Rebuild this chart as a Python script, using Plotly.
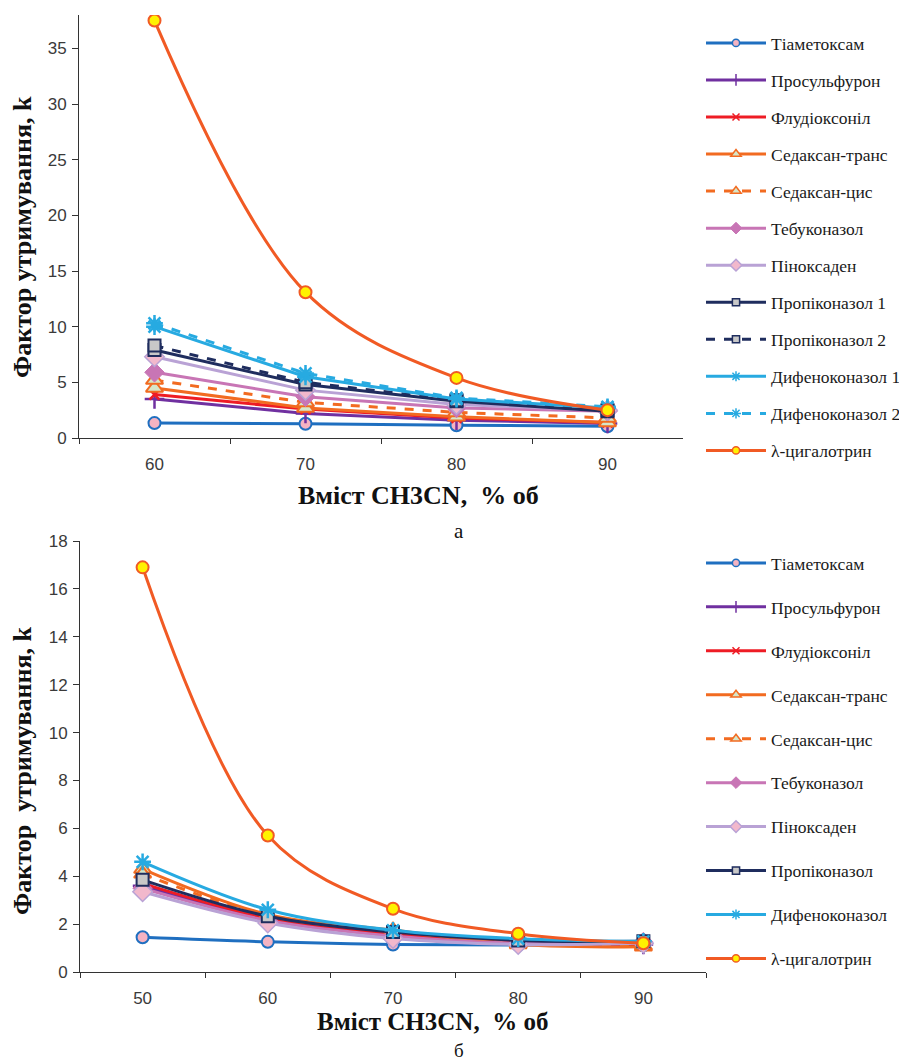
import plotly.graph_objects as go

# page body adds an 8px margin; the figure is sized so that it fills the 907x1062 window
OFF = 8
W, H = 907 - OFF, 1062 - OFF

# ---------------- data: chart a ----------------
x_a = ["60", "70", "80", "90"]
names_a = ["Тіаметоксам", "Просульфурон", "Флудіоксоніл", "Седаксан-транс", "Седаксан-цис",
           "Тебуконазол", "Піноксаден", "Пропіконазол 1", "Пропіконазол 2",
           "Дифеноконазол 1", "Дифеноконазол 2", "λ-цигалотрин"]
thiamethoxam_a = [1.34, 1.28, 1.15, 1.05]
prosulfuron_a = [3.5, 2.2, 1.6, 1.3]
fludioxonil_a = [3.9, 2.6, 1.8, 1.4]
sedaxan_trans_a = [4.5, 2.7, 1.9, 1.4]
sedaxan_cis_a = [5.2, 3.2, 2.3, 1.8]
tebuconazole_a = [5.9, 3.7, 2.7, 2.4]
pinoxaden_a = [7.3, 4.3, 3.0, 2.5]
propiconazole1_a = [7.9, 4.8, 3.3, 2.4]
propiconazole2_a = [8.3, 5.0, 3.4, 2.5]
difenoconazole1_a = [10.0, 5.5, 3.5, 2.7]
difenoconazole2_a = [10.3, 5.8, 3.6, 2.8]
cyhalothrin_a = [37.5, 13.1, 5.4, 2.5]
series_a = [thiamethoxam_a, prosulfuron_a, fludioxonil_a, sedaxan_trans_a, sedaxan_cis_a,
            tebuconazole_a, pinoxaden_a, propiconazole1_a, propiconazole2_a,
            difenoconazole1_a, difenoconazole2_a, cyhalothrin_a]
yticks_a = [0, 5, 10, 15, 20, 25, 30, 35]

# ---------------- data: chart b ----------------
x_b = ["50", "60", "70", "80", "90"]
names_b = ["Тіаметоксам", "Просульфурон", "Флудіоксоніл", "Седаксан-транс", "Седаксан-цис",
           "Тебуконазол", "Піноксаден", "Пропіконазол", "Дифеноконазол", "λ-цигалотрин"]
thiamethoxam_b = [1.45, 1.26, 1.15, 1.13, 1.12]
prosulfuron_b = [3.6, 2.2, 1.55, 1.2, 1.15]
fludioxonil_b = [3.7, 2.25, 1.6, 1.25, 1.15]
sedaxan_trans_b = [4.3, 2.4, 1.75, 1.15, 1.05]
sedaxan_cis_b = [4.1, 2.35, 1.7, 1.2, 1.1]
tebuconazole_b = [3.5, 2.15, 1.5, 1.2, 1.25]
pinoxaden_b = [3.35, 2.05, 1.4, 1.15, 1.2]
propiconazole_b = [3.85, 2.33, 1.67, 1.32, 1.28]
difenoconazole_b = [4.6, 2.6, 1.74, 1.39, 1.28]
cyhalothrin_b = [16.9, 5.7, 2.64, 1.6, 1.2]
series_b = [thiamethoxam_b, prosulfuron_b, fludioxonil_b, sedaxan_trans_b, sedaxan_cis_b,
            tebuconazole_b, pinoxaden_b, propiconazole_b, difenoconazole_b, cyhalothrin_b]
yticks_b = [0, 2, 4, 6, 8, 10, 12, 14, 16, 18]

# ---------------- styles ----------------
S = {
    "thia": dict(lc="#1F6FC0", dash="solid", sym="circle", fill="#F4B3C2", ml="#1F6FC0", ms=12, mw=2),
    "pros": dict(lc="#7030A0", dash="solid", sym="cross-thin-open", fill="#7030A0", ml="#7030A0", ms=14, mw=2.5),
    "flud": dict(lc="#EE1C25", dash="solid", sym="x-thin-open", fill="#EE1C25", ml="#EE1C25", ms=10, mw=2.5),
    "sedt": dict(lc="#F26B21", dash="solid", sym="triangle-up", fill="#D6E6C8", ml="#F26B21", ms=15, mw=2),
    "sedc": dict(lc="#F26B21", dash="dash", sym="triangle-up", fill="#D6E6C8", ml="#F26B21", ms=15, mw=2),
    "tebu": dict(lc="#C875B5", dash="solid", sym="diamond", fill="#C875B5", ml="#C875B5", ms=15, mw=1),
    "pino": dict(lc="#B9A2D5", dash="solid", sym="diamond", fill="#F2B8CC", ml="#B9A2D5", ms=15, mw=1.5),
    "pro1": dict(lc="#1F2D5E", dash="solid", sym="square", fill="#C8C8C8", ml="#1F2D5E", ms=12, mw=2),
    "pro2": dict(lc="#1F2D5E", dash="dash", sym="square", fill="#C8C8C8", ml="#1F2D5E", ms=12, mw=2),
    "dif1": dict(lc="#27AAE1", dash="solid", sym="asterisk-open", fill="#27AAE1", ml="#27AAE1", ms=14, mw=2.5),
    "dif2": dict(lc="#27AAE1", dash="dash", sym="asterisk-open", fill="#27AAE1", ml="#27AAE1", ms=14, mw=2.5),
    "lamb": dict(lc="#F15A24", dash="solid", sym="circle", fill="#FFF200", ml="#F15A24", ms=12, mw=2),
}
keys_a = ["thia", "pros", "flud", "sedt", "sedc", "tebu", "pino", "pro1", "pro2", "dif1", "dif2", "lamb"]
keys_b = ["thia", "pros", "flud", "sedt", "sedc", "tebu", "pino", "pro1", "dif1", "lamb"]

SERIF = "Liberation Serif"

fig = go.Figure()


def add(xv, yv, name, st, xa, ya, leg, grp, shape):
    fig.add_trace(go.Scatter(
        x=xv, y=yv, name=name, mode="lines+markers",
        xaxis=xa, yaxis=ya, legend=leg, legendgroup=grp, showlegend=False,
        line=dict(color=st["lc"], width=3, dash=st["dash"], shape=shape, smoothing=1.0),
        marker=dict(symbol=st["sym"], size=st["ms"], color=st["fill"],
                    line=dict(color=st["ml"], width=st["mw"])),
    ))
    # legend entry with smaller marker
    fig.add_trace(go.Scatter(
        x=[None], y=[None], name=name, mode="lines+markers",
        xaxis=xa, yaxis=ya, legend=leg, legendgroup=grp, showlegend=True,
        line=dict(color=st["lc"], width=3, dash=st["dash"]),
        marker=dict(symbol=st["sym"], size=max(7, st["ms"] * 0.6), color=st["fill"],
                    line=dict(color=st["ml"], width=min(st["mw"], 1.5))),
    ))


for i, (nm, k, ys) in enumerate(zip(names_a, keys_a, series_a)):
    add(x_a, ys, nm, S[k], "x", "y", "legend", "a%d" % i, "spline" if k == "lamb" else "linear")
for i, (nm, k, ys) in enumerate(zip(names_b, keys_b, series_b)):
    add(x_b, ys, nm, S[k], "x2", "y2", "legend2", "b%d" % i, "spline")

tickfont = dict(family="Liberation Sans", size=17, color="#3a3a3a")
axcommon = dict(showline=True, linecolor="#333333", linewidth=1, ticks="outside",
                tickcolor="#333333", showgrid=False, zeroline=False, tickfont=tickfont)


def px(v):
    return (v - OFF) / W


def py(v):
    return 1 - (v - OFF) / H


legfont = dict(family=SERIF, size=17.5, color="#1a1a1a")
fig.update_layout(
    width=W, height=H, margin=dict(l=0, r=0, t=0, b=0, autoexpand=False),
    paper_bgcolor="white", plot_bgcolor="white",
    xaxis=dict(domain=[px(79), px(683)], anchor="y", type="category", tickson="boundaries",
               range=[-0.5, len(x_a) - 0.5],
               ticklen=5, ticklabelstandoff=11, **axcommon),
    yaxis=dict(domain=[py(438), py(15)], anchor="x", range=[0, 38], tickvals=yticks_a,
               ticklen=6, ticklabelstandoff=2, **axcommon),
    xaxis2=dict(domain=[px(80), px(706)], anchor="y2", type="category", tickson="boundaries",
                range=[-0.5, len(x_b) - 0.5],
                ticklen=5, ticklabelstandoff=11, **axcommon),
    yaxis2=dict(domain=[py(972), py(541)], anchor="x2", range=[0, 18], tickvals=yticks_b,
                ticklen=6, ticklabelstandoff=2, **axcommon),
    legend=dict(x=px(701), y=py(25), xanchor="left", yanchor="top", traceorder="grouped",
                tracegroupgap=11.3, itemwidth=60, bgcolor="rgba(0,0,0,0)", font=legfont),
    legend2=dict(x=px(701), y=py(545), xanchor="left", yanchor="top", traceorder="grouped",
                 tracegroupgap=18.2, itemwidth=60, bgcolor="rgba(0,0,0,0)", font=legfont),
)

titlefont = dict(family=SERIF, size=25, color="#111111")
ann = [
    dict(text="<b>Фактор утримування, k</b>", x=px(22), y=py(237), textangle=-90,
         font=dict(family=SERIF, size=26, color="#111111"), yanchor="middle"),
    dict(text="<b>Вміст CH3CN,  % об</b>", x=px(418), y=py(495),
         font=dict(family=SERIF, size=26, color="#111111"), yanchor="middle"),
    dict(text="а", x=px(459), y=py(531), font=dict(family=SERIF, size=21, color="#111111"), yanchor="middle"),
    dict(text="<b>Фактор  утримування, k</b>", x=px(22), y=py(771), textangle=-90,
         font=dict(family=SERIF, size=26, color="#111111"), yanchor="middle"),
    dict(text="<b>Вміст CH3CN,  % об</b>", x=px(432), y=py(1021), font=titlefont, yanchor="middle"),
    dict(text="б", x=px(459), y=0, font=dict(family=SERIF, size=19, color="#111111"), yanchor="bottom"),
]
for a in ann:
    fig.add_annotation(xref="paper", yref="paper", showarrow=False, xanchor="center",
                       borderpad=0, **a)

fig.write_html("out.html")
